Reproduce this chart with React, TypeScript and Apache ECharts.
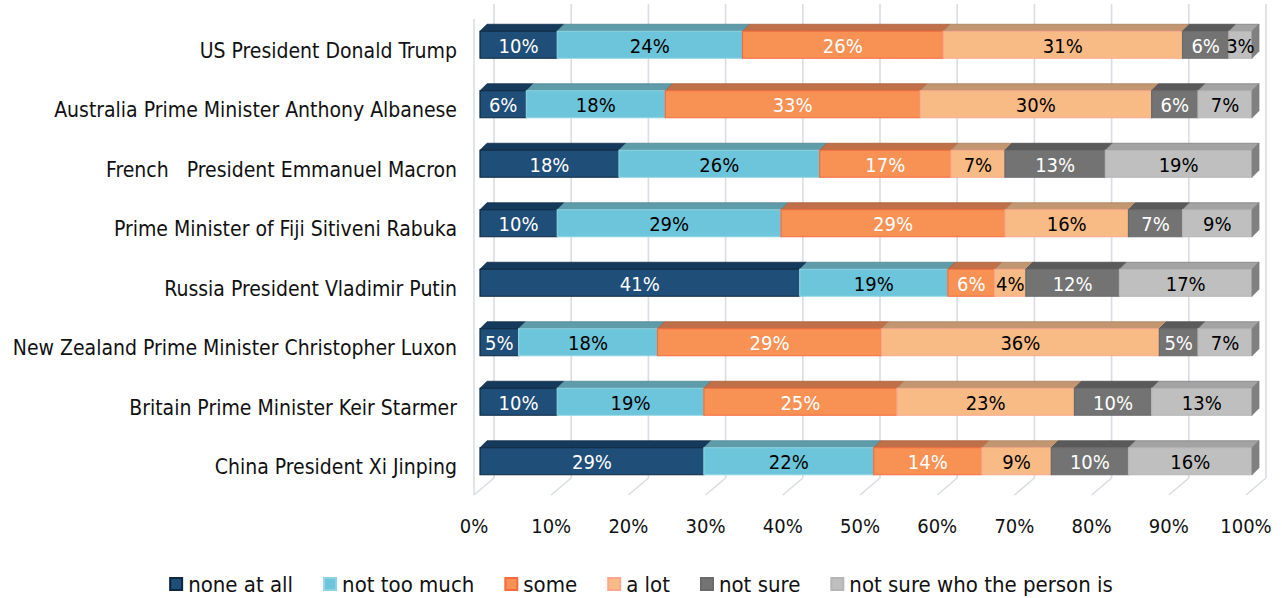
import React, { useEffect, useRef } from "react";
import * as echarts from "echarts";

const categories = [
  "US President Donald Trump",
  "Australia Prime Minister Anthony Albanese",
  "French   President Emmanuel Macron",
  "Prime Minister of Fiji Sitiveni Rabuka",
  "Russia President Vladimir Putin",
  "New Zealand Prime Minister Christopher Luxon",
  "Britain Prime Minister Keir Starmer",
  "China President Xi Jinping",
];
const noneAtAll = [10, 6, 18, 10, 41, 5, 10, 29];
const notTooMuch = [24, 18, 26, 29, 19, 18, 19, 22];
const some = [26, 33, 17, 29, 6, 29, 25, 14];
const aLot = [31, 30, 7, 16, 4, 36, 23, 9];
const notSure = [6, 6, 13, 7, 12, 5, 10, 10];
const notSureWho = [3, 7, 19, 9, 17, 7, 13, 16];
const xTicks = [0, 10, 20, 30, 40, 50, 60, 70, 80, 90, 100];

const FONT = '"DejaVu Sans Condensed", "DejaVu Sans", sans-serif';

const seriesDefs = [
  { name: "none at all", values: noneAtAll, front: "#1F4E79", top: "#163A5C", side: "#132F4B", border: "#0E2840", label: "#ffffff" },
  { name: "not too much", values: notTooMuch, front: "#6CC5DA", top: "#5E9CAA", side: "#4F8795", border: "#8FD3E3", label: "#000000" },
  { name: "some", values: some, front: "#F79154", top: "#BF7049", side: "#A85E3A", border: "#F56B3F", label: "#ffffff" },
  { name: "a lot", values: aLot, front: "#F9BB85", top: "#C39672", side: "#A8805F", border: "#FBA78E", label: "#000000" },
  { name: "not sure", values: notSure, front: "#737373", top: "#5A5A5A", side: "#4D4D4D", border: "#6A6A6A", label: "#ffffff" },
  { name: "not sure who the person is", values: notSureWho, front: "#BFBFBF", top: "#A3A3A3", side: "#808080", border: "#B5B5B5", label: "#000000" },
];

const DX = 7; // bar depth offset x
const DY = 7; // bar depth offset y
const FRONT_SHIFT_X = 6;
const FRONT_SHIFT_Y = -6;
const FRONT_H = 27;
const WALL_DX = 20;
const WALL_DY = 17;
const GRID_SHIFT = 2;

export default function App() {
  const ref = useRef<HTMLDivElement>(null);

  useEffect(() => {
    if (!ref.current) return;
    const chart = echarts.init(ref.current, undefined, { renderer: "svg" });

    const totals = categories.map((_, i) =>
      seriesDefs.reduce((acc, s) => acc + s.values[i], 0)
    );
    const starts = categories.map(() => 0);

    const barSeries = seriesDefs.map((def, si) => {
      const data = categories.map((_, i) => {
        const s = starts[i];
        const e = s + (def.values[i] / totals[i]) * 100;
        starts[i] = e;
        return [s, e, i, def.values[i], si === seriesDefs.length - 1 ? 1 : 0];
      });
      return {
        type: "custom",
        name: def.name,
        z: 10,
        itemStyle: { color: def.front, borderColor: def.border, borderWidth: 1 },
        encode: { x: [0, 1], y: 2 },
        data,
        renderItem: (params: any, api: any) => {
          const s = api.value(0);
          const e = api.value(1);
          const c = api.value(2);
          const v = api.value(3);
          const last = api.value(4);
          const p0 = api.coord([s, c]);
          const p1 = api.coord([e, c]);
          const x0 = p0[0] + FRONT_SHIFT_X;
          const x1 = p1[0] + FRONT_SHIFT_X;
          const cy = p0[1] + FRONT_SHIFT_Y;
          const yt = cy - FRONT_H / 2;
          const yb = cy + FRONT_H / 2;
          const children: any[] = [
            {
              type: "polygon",
              shape: { points: [[x0, yt], [x1, yt], [x1 + DX, yt - DY], [x0 + DX, yt - DY]] },
              style: { fill: def.top, stroke: def.side, lineWidth: 0.8 },
            },
            {
              type: "rect",
              shape: { x: x0, y: yt, width: x1 - x0, height: yb - yt },
              style: { fill: def.front, stroke: def.border, lineWidth: 1.2 },
            },
          ];
          if (last) {
            children.push({
              type: "polygon",
              shape: { points: [[x1, yt], [x1 + DX, yt - DY], [x1 + DX, yb - DY], [x1, yb]] },
              style: { fill: def.side, stroke: def.side, lineWidth: 0.8 },
            });
          }
          children.push({
            type: "text",
            style: {
              text: v + "%",
              x: (x0 + x1) / 2,
              y: cy + 1,
              align: "center",
              verticalAlign: "middle",
              fill: def.label,
              fontSize: 20,
              fontFamily: FONT,
            },
          });
          return { type: "group", children };
        },
      };
    });

    const gridSeries = {
      type: "custom",
      name: "_grid",
      silent: true,
      z: 1,
      encode: { x: 0, y: 1 },
      data: xTicks.map((t) => [t, 0]),
      renderItem: (params: any, api: any) => {
        const t = api.value(0);
        const p = api.coord([t, 0]);
        const cs = params.coordSys;
        const floorY = cs.y + cs.height - GRID_SHIFT;
        const frontTop = cs.y - GRID_SHIFT;
        const topY = frontTop - WALL_DY + 2;
        const children: any[] = [
          {
            type: "polyline",
            shape: { points: [[p[0], floorY], [p[0] + WALL_DX, floorY - WALL_DY], [p[0] + WALL_DX, topY]] },
            style: { stroke: "#DADDE4", lineWidth: 1.6, fill: "none" },
          },
        ];
        if (t === 0) {
          children.push({
            type: "line",
            shape: { x1: p[0], y1: floorY, x2: p[0], y2: frontTop },
            style: { stroke: "#DADDE4", lineWidth: 1.6 },
          });
        }
        return { type: "group", children };
      },
    };

    chart.setOption({
      animation: false,
      grid: { left: 474, right: 36, top: 19 + GRID_SHIFT, bottom: 103 - GRID_SHIFT, containLabel: false },
      xAxis: {
        type: "value",
        min: 0,
        max: 100,
        interval: 10,
        axisLine: { show: false },
        axisTick: { show: false },
        splitLine: { show: false },
        axisLabel: { formatter: "{value}%", color: "#111", fontSize: 20, fontFamily: FONT, margin: 21 - GRID_SHIFT },
      },
      yAxis: {
        type: "category",
        inverse: true,
        data: categories,
        axisLine: { show: false },
        axisTick: { show: false },
        axisLabel: { color: "#111", fontSize: 21, fontFamily: FONT, margin: 17 },
      },
      legend: {
        data: seriesDefs.map((d) => d.name),
        top: 568,
        left: "center",
        icon: "rect",
        itemWidth: 12,
        itemHeight: 12,
        itemGap: 30,
        textStyle: { color: "#111", fontSize: 22, fontFamily: FONT, padding: [0, 0, 0, 1] },
      },
      series: [gridSeries, ...barSeries],
    });

    return () => chart.dispose();
  }, []);

  return (
    <div
      ref={ref}
      style={{ position: "fixed", left: 0, top: 0, width: 1282, height: 598, background: "#fff" }}
    />
  );
}
